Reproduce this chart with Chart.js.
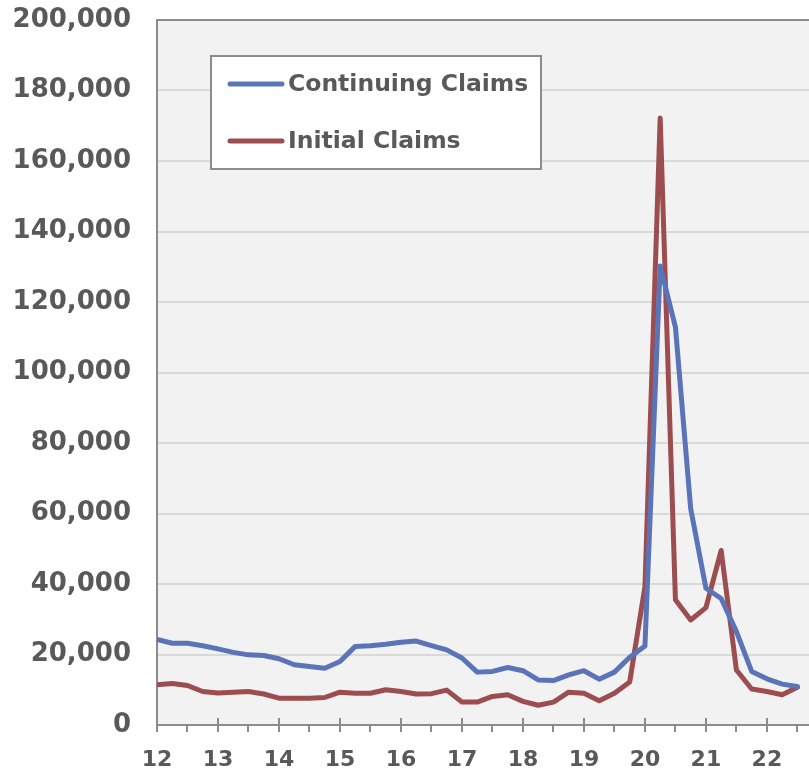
<!DOCTYPE html>
<html>
<head>
<meta charset="utf-8">
<script src="https://cdn.jsdelivr.net/npm/chart.js@4.4.1/dist/chart.umd.min.js"></script>
<style>
  html, body { margin: 0; background: #fff; }
  #wrap { width: 809px; height: 768px; position: relative; }
</style>
</head>
<body>
<div id="wrap"><canvas id="claims"></canvas></div>
<script>
const quarters = [
  '12Q1', '12Q2', '12Q3', '12Q4', '13Q1', '13Q2', '13Q3', '13Q4',
  '14Q1', '14Q2', '14Q3', '14Q4', '15Q1', '15Q2', '15Q3', '15Q4',
  '16Q1', '16Q2', '16Q3', '16Q4', '17Q1', '17Q2', '17Q3', '17Q4',
  '18Q1', '18Q2', '18Q3', '18Q4', '19Q1', '19Q2', '19Q3', '19Q4',
  '20Q1', '20Q2', '20Q3', '20Q4', '21Q1', '21Q2', '21Q3', '21Q4',
  '22Q1', '22Q2', '22Q3',
];
const continuingClaims = [
  24300, 23200, 23200, 22500, 21600, 20600, 19900, 19700,
  18800, 17100, 16600, 16100, 18000, 22300, 22500, 22900,
  23500, 23800, 22500, 21300, 19000, 15000, 15200, 16300,
  15400, 12800, 12600, 14200, 15400, 13000, 15000, 19200,
  22400, 130200, 112900, 61400, 38800, 35900, 26500, 15200,
  13100, 11600, 10900,
];
const initialClaims = [
  11400, 11800, 11200, 9500, 9050, 9300, 9500, 8800,
  7600, 7600, 7600, 7800, 9300, 9000, 9000, 10000,
  9500, 8800, 8900, 9900, 6500, 6500, 8100, 8600,
  6700, 5600, 6500, 9300, 9000, 6900, 9000, 12200,
  39200, 172200, 35500, 29800, 33300, 49500, 15600, 10200,
  9500, 8600, 10700,
];
const seriesNames = ['Continuing Claims', 'Initial Claims'];
const seriesColors = ['#5b74b8', '#9c4d4f'];

// '12Q3' -> 2012.5
const quarterX = (q) => 2000 + parseInt(q.slice(0, 2), 10) + (parseInt(q.slice(3), 10) - 1) / 4;
const toPoints = (vals) => vals.map((v, i) => ({ x: quarterX(quarters[i]), y: v }));

const axisGray = '#8c8c8c';
const textGray = '#595959';

const plotArea = {
  id: 'plotArea',
  beforeDraw(chart) {
    const { ctx, chartArea: a } = chart;
    ctx.save();
    ctx.fillStyle = '#f2f2f2';
    ctx.fillRect(a.left, a.top, a.right - a.left, a.bottom - a.top);
    ctx.restore();
  },
  afterDraw(chart) {
    const { ctx, chartArea: a, scales } = chart;
    ctx.save();
    // major year ticks cross the axis
    ctx.strokeStyle = axisGray;
    ctx.lineWidth = 2;
    scales.x.ticks.forEach((t) => {
      if (Number.isInteger(t.value)) {
        const px = Math.round(scales.x.getPixelForValue(t.value));
        ctx.beginPath();
        ctx.moveTo(px, a.bottom - 7);
        ctx.lineTo(px, a.bottom);
        ctx.stroke();
      }
    });
    // legend box
    ctx.fillStyle = '#fff';
    ctx.fillRect(211, 56, 330, 113);
    ctx.strokeStyle = axisGray;
    ctx.strokeRect(211, 56, 330, 113);
    ctx.font = 'bold 23.5px "DejaVu Sans"';
    ctx.textBaseline = 'middle';
    ctx.lineCap = 'round';
    chart.data.datasets.forEach((ds, i) => {
      const y = i === 0 ? 84 : 141;
      ctx.strokeStyle = ds.borderColor;
      ctx.lineWidth = 5;
      ctx.beginPath();
      ctx.moveTo(230, y);
      ctx.lineTo(282, y);
      ctx.stroke();
      ctx.fillStyle = textGray;
      ctx.fillText(ds.label, 288, y + 1);
    });
    ctx.restore();
  },
};

new Chart(document.getElementById('claims'), {
  type: 'line',
  data: {
    datasets: [
      {
        label: seriesNames[0],
        data: toPoints(continuingClaims),
        borderColor: seriesColors[0],
        borderWidth: 5,
        pointRadius: 0,
        borderJoinStyle: 'round',
        borderCapStyle: 'round',
      },
      {
        label: seriesNames[1],
        data: toPoints(initialClaims),
        borderColor: seriesColors[1],
        borderWidth: 5,
        pointRadius: 0,
        borderJoinStyle: 'round',
        borderCapStyle: 'round',
      },
    ],
  },
  options: {
    responsive: true,
    maintainAspectRatio: false,
    animation: false,
    layout: { padding: { top: 20, right: 0, left: 0, bottom: 0 } },
    scales: {
      x: {
        type: 'linear',
        min: 2012,
        max: 2022.69,
        afterFit: (s) => { s.height = 43; s.paddingLeft = 0; s.paddingRight = 0; },
        border: { color: axisGray, width: 2 },
        grid: {
          drawOnChartArea: false,
          color: axisGray,
          lineWidth: 2,
          tickLength: 7,
        },
        ticks: {
          stepSize: 0.5,
          includeBounds: false,
          autoSkip: false,
          maxRotation: 0,
          padding: 15,
          color: textGray,
          font: { family: 'DejaVu Sans', size: 22, weight: 'bold' },
          callback: (v) => (Number.isInteger(v) ? String(v % 100) : ''),
        },
      },
      y: {
        min: 0,
        max: 200000,
        afterFit: (s) => { s.width = 157; s.paddingTop = 0; s.paddingBottom = 0; },
        border: { color: axisGray, width: 2 },
        grid: {
          drawTicks: false,
          lineWidth: 2,
          color: (c) => (c.tick && c.tick.value === 200000 ? axisGray : '#d9d9d9'),
        },
        ticks: {
          stepSize: 20000,
          padding: 26,
          color: textGray,
          font: { family: 'DejaVu Sans', size: 26, weight: 'bold' },
          callback: (v) => v.toLocaleString('en-US'),
        },
      },
    },
    plugins: {
      legend: { display: false },
      tooltip: { enabled: false },
    },
  },
  plugins: [plotArea],
});
</script>
</body>
</html>
